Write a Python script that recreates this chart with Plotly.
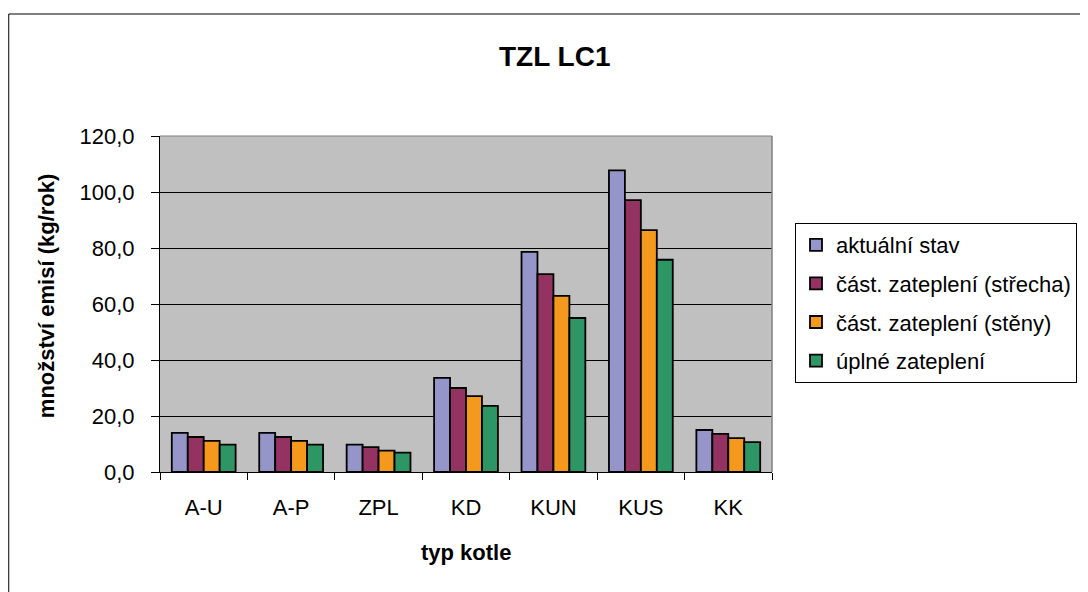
import plotly.graph_objects as go

categories = ["A-U", "A-P", "ZPL", "KD", "KUN", "KUS", "KK"]
series_names = ["aktuální stav", "část. zateplení (střecha)", "část. zateplení (stěny)", "úplné zateplení"]
aktualni = [14.0, 14.0, 9.8, 33.6, 78.6, 107.7, 15.0]
strecha = [12.5, 12.5, 8.9, 30.0, 70.7, 97.1, 13.6]
steny = [11.1, 11.1, 7.6, 27.1, 62.9, 86.4, 12.1]
uplne = [9.8, 9.8, 6.9, 23.6, 55.0, 75.8, 10.7]
colors = ["#9595C9", "#943262", "#F5981E", "#2E9565"]
y_ticks = [0, 20, 40, 60, 80, 100, 120]

FONT = "Liberation Sans, Arial, sans-serif"

fig = go.Figure()
for i, (name, vals) in enumerate(zip(series_names, [aktualni, strecha, steny, uplne])):
    fig.add_trace(go.Bar(
        x=categories, y=vals, name=name, legendgroup=f"g{i}",
        marker=dict(color=colors[i], line=dict(color="black", width=1.8)),
    ))

# page body has an 8px margin; figure coordinates = screen - 8
OFF = 8
W, H = 1088 - OFF, 592 - OFF
L = 160 - OFF
T = 136 - OFF
R = W - (773 - OFF)
B = H - (472 - OFF)
pw, ph = W - L - R, H - T - B

def fx(sx):
    return (sx - OFF - L) / pw

def fy(sy):
    return (H - B - (sy - OFF)) / ph

fig.update_layout(
    width=W, height=H,
    margin=dict(l=L, r=R, t=T, b=B),
    paper_bgcolor="white",
    plot_bgcolor="#C0C0C0",
    separators=", ",
    barmode="group",
    bargap=0.27,
    bargroupgap=0,
    font=dict(family=FONT, color="black", size=22),
    showlegend=True,
    xaxis=dict(
        showline=True, linecolor="black", linewidth=1,
        ticks="outside", tickson="boundaries", ticklen=7, tickcolor="black",
        tickfont=dict(size=22), ticklabelstandoff=16,
    ),
    yaxis=dict(
        range=[0, 120], tickvals=y_ticks, tickformat=".1f",
        showline=True, linecolor="black", linewidth=1,
        ticks="outside", ticklen=8, tickcolor="black",
        showgrid=True, gridcolor="black", gridwidth=1,
        zeroline=False,
        tickfont=dict(size=22), ticklabelstandoff=12,
    ),
    legend=dict(
        x=fx(795), y=fy(223), xanchor="left", yanchor="top",
        bordercolor="black", borderwidth=1, bgcolor="white",
        font=dict(size=22), tracegroupgap=7,
    ),
    annotations=[
        dict(text="<b>TZL LC1</b>", xref="paper", yref="paper", x=fx(555), y=fy(57),
             xanchor="center", yanchor="middle", showarrow=False, font=dict(size=28)),
        dict(text="<b>typ kotle</b>", xref="paper", yref="paper", x=fx(466), y=fy(552),
             xanchor="center", yanchor="middle", showarrow=False, font=dict(size=22)),
        dict(text="<b>množství emisí (kg/rok)</b>", xref="paper", yref="paper", x=fx(46), y=fy(296),
             xanchor="center", yanchor="middle", showarrow=False, textangle=-90, font=dict(size=22)),
    ],
    shapes=[
        dict(type="rect", xref="paper", yref="paper",
             x0=fx(8.5), y0=fy(14), x1=fx(1100), y1=fy(610),
             line=dict(color="black", width=1), fillcolor="rgba(0,0,0,0)", layer="below"),
        dict(type="line", xref="paper", yref="paper", x0=1, x1=1, y0=0, y1=1,
             line=dict(color="#808080", width=1.5)),
        dict(type="line", xref="paper", yref="paper", x0=0, x1=1, y0=1, y1=1,
             line=dict(color="#808080", width=1)),
    ],
)

fig.write_html("out.html")
